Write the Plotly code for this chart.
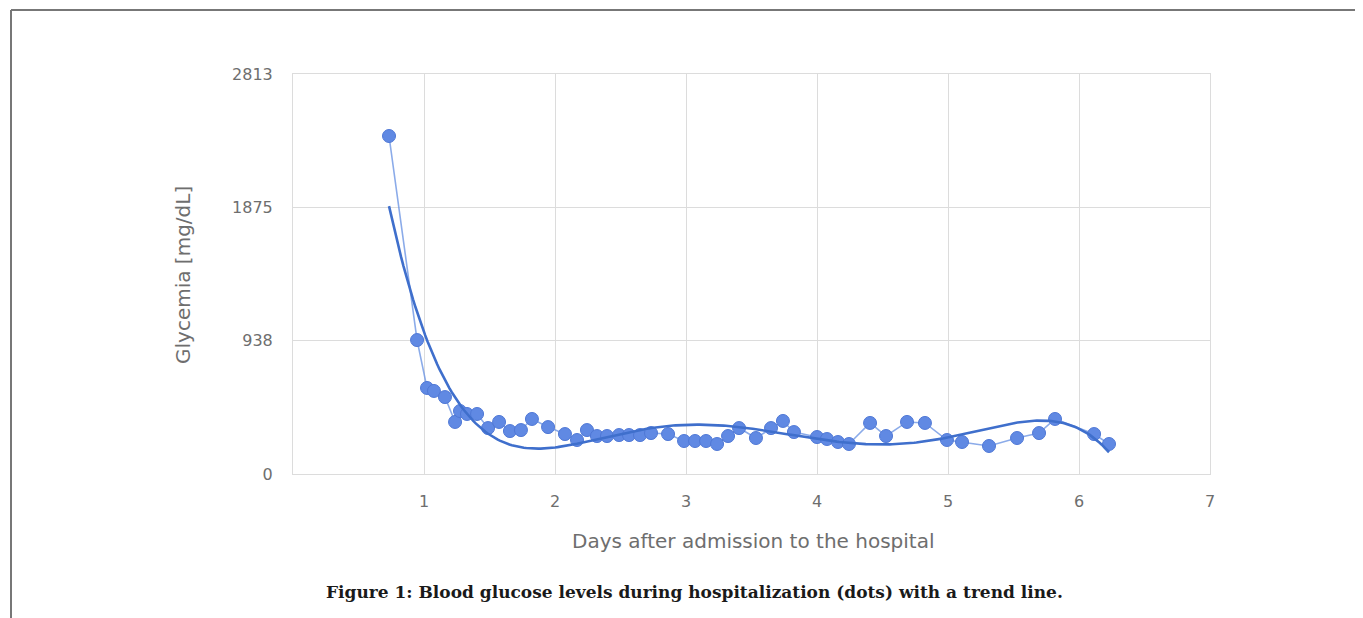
import numpy as np
import plotly.graph_objects as go

# ---- data ----
days = [0.733, 0.947, 1.023, 1.076, 1.160, 1.237, 1.275, 1.328, 1.405, 1.489,
        1.573, 1.656, 1.740, 1.824, 1.947, 2.076, 2.168, 2.244, 2.320, 2.397,
        2.489, 2.565, 2.649, 2.733, 2.863, 2.985, 3.069, 3.153, 3.237, 3.321,
        3.405, 3.534, 3.649, 3.740, 3.824, 4.000, 4.076, 4.160, 4.244, 4.405,
        4.527, 4.687, 4.824, 4.992, 5.107, 5.313, 5.527, 5.695, 5.817, 6.115,
        6.229]
glycemia = [2377, 942, 605, 584, 541, 366, 443, 422, 422, 323,
            366, 302, 309, 387, 330, 281, 239, 309, 267, 267,
            274, 274, 274, 288, 281, 232, 232, 232, 211, 267,
            323, 253, 323, 373, 295, 260, 246, 225, 211, 359,
            267, 366, 359, 239, 225, 197, 253, 288, 387, 281,
            211]
y_tickvals = [0, 2813 / 3, 2 * 2813 / 3, 2813]
y_ticktext = ["0", "938", "1875", "2813"]
x_tickvals = [1, 2, 3, 4, 5, 6, 7]
caption = "Figure 1: Blood glucose levels during hospitalization (dots) with a trend line."
x_title = "Days after admission to the hospital"
y_title = "Glycemia [mg/dL]"

# polynomial trend line (order 5), as in the original spreadsheet trendline
coef = np.polyfit(days, glycemia, 5)
tx = np.linspace(min(days), max(days), 300)
ty = np.polyval(coef, tx)

OFF = 8                      # page body margin
W, H = 1363 - OFF, 618 - OFF
# plot area in page pixels: x 293..1210, y 74..474
ML, MT = 293 - OFF, 74 - OFF
MR, MB = W - (1210 - OFF), H - (474 - OFF)
PW, PH = W - ML - MR, H - MT - MB

def px_x(p):  # page pixel -> paper x
    return (p - OFF - ML) / PW

def px_y(p):  # page pixel -> paper y
    return (H - MB - (p - OFF)) / PH

fig = go.Figure()
fig.add_trace(go.Scatter(
    x=days, y=glycemia, mode="lines+markers",
    line=dict(color="rgba(110,150,228,0.8)", width=1.6),
    marker=dict(size=13, color="#6089e3", line=dict(color="#4f78d6", width=1)),
    showlegend=False, hoverinfo="x+y"))
fig.add_trace(go.Scatter(
    x=tx, y=ty, mode="lines",
    line=dict(color="#3f6fcc", width=2.6),
    showlegend=False, hoverinfo="skip"))

gray = "#6e6e6e"
tickfont = dict(family="DejaVu Sans", size=16, color=gray)
fig.update_layout(
    width=W, height=H,
    margin=dict(l=ML, r=MR, t=MT, b=MB),
    paper_bgcolor="white", plot_bgcolor="white",
    xaxis=dict(range=[0, 7], tickvals=x_tickvals, showgrid=True,
               gridcolor="#dcdcdc", gridwidth=1, zeroline=False,
               showline=True, linecolor="#dcdcdc", linewidth=1, mirror=True,
               tickfont=tickfont, ticks="", ticklabelstandoff=13),
    yaxis=dict(range=[0, 2813], tickvals=y_tickvals, ticktext=y_ticktext,
               showgrid=True, gridcolor="#dcdcdc", gridwidth=1, zeroline=False,
               showline=True, linecolor="#dcdcdc", linewidth=1, mirror=True,
               tickfont=tickfont, ticks="", ticklabelstandoff=16),
    shapes=[
        dict(type="line", xref="paper", yref="paper",
             x0=px_x(11), x1=px_x(1363 + 5), y0=px_y(10), y1=px_y(10),
             line=dict(color="#777777", width=2)),
        dict(type="line", xref="paper", yref="paper",
             x0=px_x(11), x1=px_x(11), y0=px_y(10), y1=px_y(618 + 5),
             line=dict(color="#777777", width=2)),
    ],
    annotations=[
        dict(text=x_title, xref="paper", yref="paper",
             x=px_x(753), y=px_y(541), showarrow=False,
             xanchor="center", yanchor="middle",
             font=dict(family="DejaVu Sans", size=20, color=gray)),
        dict(text=y_title, xref="paper", yref="paper", textangle=-90,
             x=px_x(183), y=px_y(275), showarrow=False,
             xanchor="center", yanchor="middle",
             font=dict(family="DejaVu Sans", size=20, color=gray)),
        dict(text="<b>" + caption + "</b>", xref="paper", yref="paper",
             x=px_x(694), y=px_y(592), showarrow=False,
             xanchor="center", yanchor="middle",
             font=dict(family="DejaVu Serif", size=17, color="#1a1a1a")),
    ],
)

fig.write_html("out.html")
